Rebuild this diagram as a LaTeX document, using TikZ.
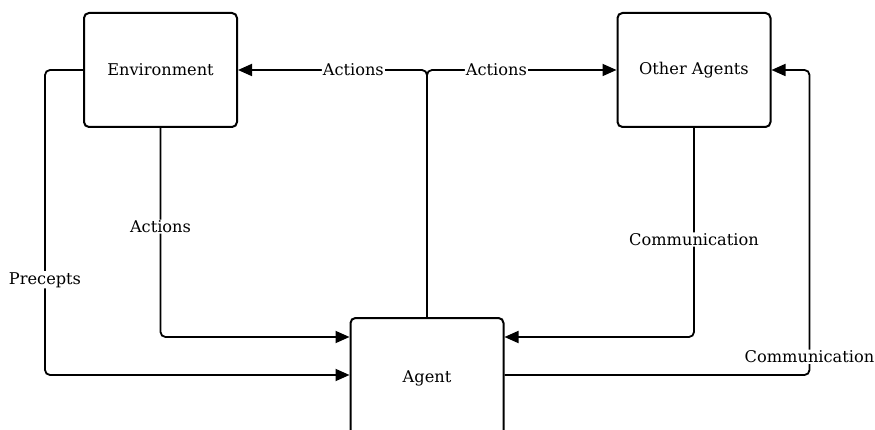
\documentclass[tikz,border=0pt]{standalone}
\usepackage{fontspec}
\setmainfont{DejaVu Serif}
\usetikzlibrary{arrows.meta}
\begin{document}
\begin{tikzpicture}[x=1pt, y=-1pt,
  txt/.style={font=\fontsize{16.2}{19}\selectfont},
  box/.style={draw, line width=2pt, rounded corners=5pt, fill=white,
    minimum width=153pt, minimum height=114pt, txt},
  link/.style={line width=1.8pt, rounded corners=5pt,
    -{Triangle[length=14pt, width=12pt]}},
  lbl/.style={fill=white, inner sep=1pt, txt}]
\useasboundingbox (0,0) rectangle (875,430);

% the three actors
\node[box] (env) at (160.5,70) {Environment};
\node[box] (oth) at (694,70) {Other Agents};
\node[box, minimum height=120pt] (agt) at (427,378) {\raisebox{3pt}{Agent}};

% agent acts on the environment and on the other agents
\draw[link] (agt.north) |- (env.east) node[lbl, pos=0.695] {Actions};
\draw[link] (agt.north) |- (oth.west) node[lbl, pos=0.683] {Actions};

% feedback from the environment
\draw[link] (env.south) |- ([yshift=41pt]agt.west) node[lbl, pos=0.236] {Actions};
\draw[link] (env.west) -- ++(-38,0) |- ([yshift=3pt]agt.west) node[lbl, pos=0.344] {Precepts};

% messages between the agent and the other agents
\draw[link] (oth.south) |- ([yshift=41pt]agt.east) node[lbl, pos=0.267] {Communication};
\draw[link] ([yshift=3pt]agt.east) -- ++(305,0) |- (oth.east) node[lbl, pos=0.03] {Communication};
\end{tikzpicture}
\end{document}
